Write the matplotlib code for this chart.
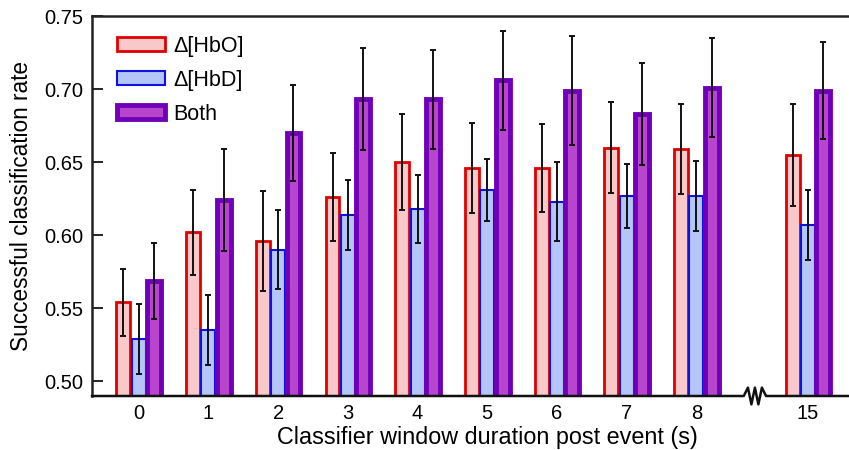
import numpy as np
import matplotlib
matplotlib.use('Agg')
import matplotlib.pyplot as plt
import matplotlib.transforms as mtransforms

plt.rcParams['font.family'] = ['Liberation Sans', 'DejaVu Sans']

windows = ['0', '1', '2', '3', '4', '5', '6', '7', '8', '15']
positions = [0, 1, 2, 3, 4, 5, 6, 7, 8, 9.6]

hbo = [0.554, 0.602, 0.596, 0.626, 0.650, 0.646, 0.646, 0.660, 0.659, 0.655]
hbo_err = [0.023, 0.029, 0.034, 0.030, 0.033, 0.031, 0.030, 0.031, 0.031, 0.035]
hbd = [0.529, 0.535, 0.590, 0.614, 0.618, 0.631, 0.623, 0.627, 0.627, 0.607]
hbd_err = [0.024, 0.024, 0.027, 0.024, 0.023, 0.021, 0.027, 0.022, 0.024, 0.024]
both = [0.569, 0.624, 0.670, 0.693, 0.693, 0.706, 0.699, 0.683, 0.701, 0.699]
both_err = [0.026, 0.035, 0.033, 0.035, 0.034, 0.034, 0.037, 0.035, 0.034, 0.033]

series = [
    ('Δ[HbO]', hbo, hbo_err, '#f9c9c9', '#e00000', 2.0),
    ('Δ[HbD]', hbd, hbd_err, '#b3c6f7', '#1010e0', 1.5),
    ('Both', both, both_err, '#b846cc', '#7000b8', 3.5),
]

fig = plt.figure(figsize=(8.49, 4.5), dpi=100)
ax = fig.add_axes([0.1084, 0.12, 0.8916, 0.8444])

x = np.array(positions)
width = 0.2
step = 0.22
for i, (name, vals, errs, face, edge, lw) in enumerate(series):
    xs = x + (i - 1) * step
    ax.bar(xs, vals, width=width, bottom=0, color=face, edgecolor=edge,
           linewidth=lw, label=name, zorder=2)
    ax.errorbar(xs, vals, yerr=errs, fmt='none', ecolor='#111111',
                elinewidth=1.4, capsize=2.5, capthick=1.4, zorder=3)

ax.set_xlim(-0.67, 10.19)
ax.set_ylim(0.49, 0.75)
ax.set_yticks([0.50, 0.55, 0.60, 0.65, 0.70, 0.75])
ax.set_yticklabels(['0.50', '0.55', '0.60', '0.65', '0.70', '0.75'])
ax.set_xticks(positions)
ax.set_xticklabels(windows)
ax.tick_params(axis='y', direction='in', length=8, width=1.2, labelsize=14.5, pad=6)
ax.tick_params(axis='x', length=0, labelsize=14.5, pad=6)

ax.spines['right'].set_visible(False)
ax.spines['bottom'].set_visible(False)
for s in ['left', 'top']:
    ax.spines[s].set_linewidth(1.8)
    ax.spines[s].set_color('#222222')

# bottom axis line with a break zigzag between 8 and 15
trans = mtransforms.blended_transform_factory(ax.transData, ax.transAxes)
bx = 8.84
zz_x = [-0.67, bx - 0.16, bx - 0.1, bx - 0.05, bx, bx + 0.05, bx + 0.1, bx + 0.16, 10.19]
zz_y = [0, 0, 0.022, -0.022, 0.022, -0.022, 0.022, 0, 0]
ax.plot(zz_x, zz_y, color='#111111', lw=1.8, transform=trans, clip_on=False, zorder=5)

ax.set_ylabel('Successful classification rate', fontsize=16.3, labelpad=8)
ax.set_xlabel('Classifier window duration post event (s)', fontsize=16.8, labelpad=2, x=0.522)

ax.legend(loc='upper left', bbox_to_anchor=(0.033, 0.948), frameon=False, fontsize=15.5,
          borderpad=0, borderaxespad=0,
          handlelength=2.25, handleheight=0.6, labelspacing=0.6, handletextpad=0.35)

fig.savefig('out.png', dpi=100)
